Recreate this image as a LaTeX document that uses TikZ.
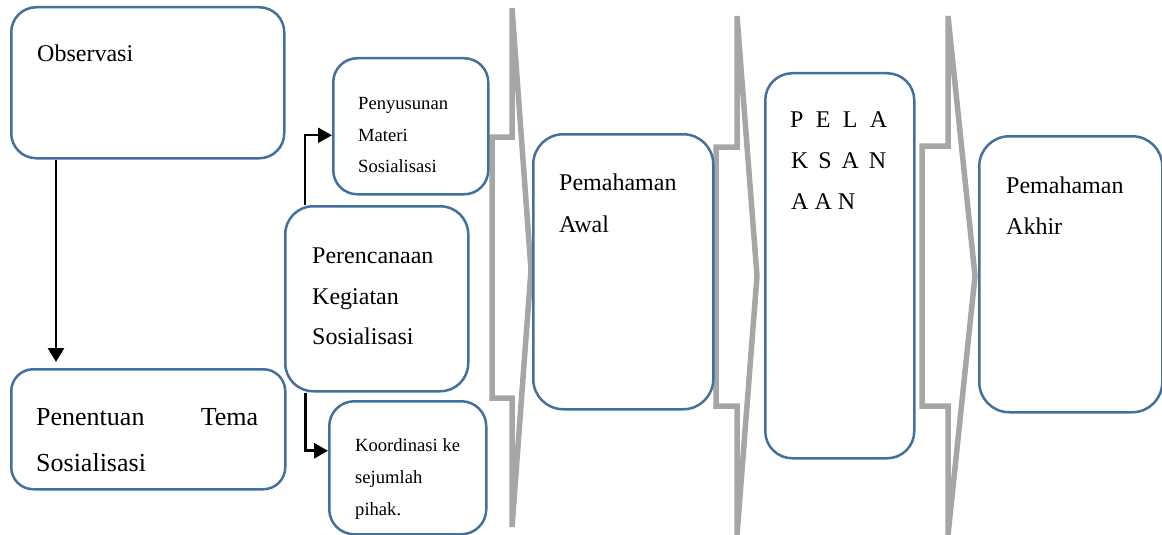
\documentclass[tikz,border=0pt]{standalone}
\usepackage{fontspec}
\setmainfont{Liberation Serif}
\usepackage{xcolor}
\definecolor{boxblue}{RGB}{65,113,156}
\definecolor{chevgray}{RGB}{166,166,166}
\usetikzlibrary{arrows.meta}

\begin{document}
\begin{tikzpicture}[x=1pt,y=-1pt,box/.style n args={3}{draw=boxblue,line width=2.5pt,rounded corners=#3,minimum width=#1,minimum height=#2,rectangle,anchor=north west,inner sep=0pt},txt/.style={anchor=base west,inner sep=0pt,font=\fontsize{24}{28}\selectfont},smalltxt/.style={txt,font=\fontsize{18.6}{22}\selectfont},link/.style={draw=black,line width=2pt,-{Triangle[length=14pt,width=15pt]}},chev/.style={draw=chevgray,line width=5.5pt}]
\useasboundingbox (0,0) rectangle (1162,535);
\foreach \x/\xl/\tx/\ty/\ya/\yb/\sa/\sb in %
{512/492/531/270/8/527/137/398,737/716/757/276/16/535/147/406,948/922/975/276/16/535/146/406} {
   \draw[chev] (\x,\ya) -- (\tx,\ty) -- (\x,\yb) -- (\x,\sb) -- (\xl,\sb) -- (\xl,\sa) -- (\x,\sa) -- cycle;
}
\node[box={273pt}{151pt}{25pt}] (obs) at (10,6) {};
\node[box={274pt}{120pt}{22pt}] (tema) at (10,368) {};
\node[box={155pt}{136pt}{24pt}] (penyu) at (332,57) {};
\node[box={183pt}{185pt}{28pt}] (perenc) at (284,205) {};
\node[box={157pt}{133pt}{25pt}] (koor) at (328,400) {};
\node[box={180pt}{275pt}{30pt}] (awal) at (532,133) {};
\node[box={149pt}{385pt}{27pt}] (pelak) at (764,72) {};
\node[box={183pt}{276pt}{30pt}] (akhir) at (978,135) {};
\node[txt] (obsT) at (37,62) {Observasi};
\node[txt,font=\fontsize{26}{30}\selectfont] (temaT1) at (36,425) {\makebox[222pt]{Penentuan\hfill Tema}};
\node[txt,font=\fontsize{26}{30}\selectfont] (temaT2) at (36,471) {Sosialisasi};
\foreach \y/\t [count=\i] in %
{263/Perencanaan,304/Kegiatan,344/Sosialisasi} {
   \node[txt] (perencT\i) at (312,\y) {\t};
}
\foreach \y/\t [count=\i] in %
{110/Penyusunan,141/Materi,172/Sosialisasi} {
   \node[smalltxt] (penyuT\i) at (358,\y) {\t};
}
\foreach \y/\t [count=\i] in %
{451/Koordinasi ke,483/sejumlah,515/pihak.} {
   \node[smalltxt] (koorT\i) at (355,\y) {\t};
}
\foreach \y/\t [count=\i] in %
{190/Pemahaman,232/Awal} {
   \node[txt] (awalT\i) at (559,\y) {\t};
}
\foreach \y/\t [count=\i] in %
{193/Pemahaman,234/Akhir} {
   \node[txt] (akhirT\i) at (1006,\y) {\t};
}
\node[txt] (pelakT1) at (790,127) {\makebox[97pt]{P\hfill E\hfill L\hfill A}};
\node[txt] (pelakT2) at (791,168) {\makebox[95pt]{K\hfill S\hfill A\hfill N}};
\node[txt] (pelakT3) at (791,209) {A A N};
\draw[link,line width=2.6pt,-{Triangle[length=14pt,width=16pt]}] ([xshift=46pt]obs.south west) -- ([xshift=46pt,yshift=6pt]tema.north west);
\draw[link] ([xshift=21pt]perenc.north west) |- ([yshift=-9pt]penyu.west);
\draw[link,line width=3pt] ([xshift=21pt]perenc.south west) |- ([yshift=17pt]koor.west);
\end{tikzpicture}
\end{document}
